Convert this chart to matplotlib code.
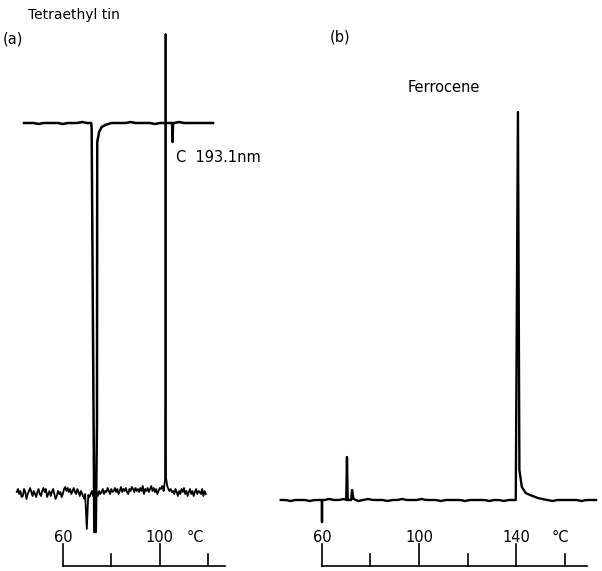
import numpy as np
import matplotlib
matplotlib.use('Agg')
import matplotlib.pyplot as plt

# ---- data (temperature in deg C, signal in chart units above each baseline) ----

# (a) lower trace: noise read every 0.5 C from 41 to 119 C
a_low_T = np.arange(41, 119.5, 0.5)
a_low_noise = [2, 5, 0, 3, -3, -2, 5, 2, -5, 0, 3, 6, 2, -2, 3, 0, -3, 2, 5, 0,
               -2, 3, 6, 2, 5, -3, 0, 3, -2, 2, 5, 0, -5, -2, 3, 0, 2, -3, 0, 5,
               7, 3, 6, 2, 5, 0, 3, 6, 2, 0, 5, 2, -2, 3, 0, -3, -5, -2, 2, 0,
               -3, 0, 3, -2, -3, 0, 2, -2, 3, 0, 2, 5, 0, 3, 2, 6, 3, 0, 5, 2,
               3, 6, 2, 5, 0, 3, 7, 2, 5, 3, 6, 2, 0, 5, 3, 7, 5, 2, 6, 3,
               5, 2, 6, 3, 8, 0, 5, 3, 6, 2, 5, 8, 3, 6, 2, 5, 0, 3, 6, 5,
               8, 5, 3, 6, 9, 3, 0, 5, 2, 3, 0, 5, 2, -2, 3, 0, 5, 2, 6, 0,
               3, -2, 2, 5, 0, 3, -2, 2, 5, 0, 3, 2, 0, 5, -2, 3, 0]
a_low_peaks = [
    ([69.2, 69.9, 70.5], [0, -35, -1]),
    ([101.6, 102.2, 102.4, 102.6, 103.2, 104.0], [3, 14, 460, 16, 7, 3]),
]

# (a) upper trace (C 193.1 nm): noise every 2 C from 44 to 122 C
a_up_T = np.arange(44, 123, 2.0)
a_up_noise = [0, 0, 0, -1, 0, 0, 0, 0, -1, 0, 0, 0, 1, 0, 0, 0, 0, 0, 1, 0,
              0, 0, 1, 0, 0, 0, 0, -1, 0, 0, 0, 0, 1, 0, 0, 0, 0, 0, 0, 0]
a_up_peaks = [
    ([71.7, 71.9, 73.0, 73.6, 74.1, 74.2, 75.0, 76.0, 77.5, 80.0],
     [0, -5, -409, -409, -300, -19, -9, -4, -2, 0]),
    ([105.1, 105.3, 105.5], [0, -19, 0]),
]

# (b) ferrocene trace: noise every 2 C from 43 to 173 C
b_T = np.arange(43, 174, 2.0)
b_noise = [0, 0, -1, 0, 0, 0, -1, 0, 0, 0, 1, 0, 0, 1, 0, 0, -1, 0, 1, 0,
           0, 0, -1, 0, 0, 1, 0, 0, 0, 1, 0, 0, 0, -1, 0, 0, 0, 0, -1, 0,
           0, 0, 0, -1, 0, 0, -1, 0, 0, 0, 0, 0, -1, 0, 0, 0, -1, 0, 0, 0,
           0, 0, -1, 0, 0, 0]
b_peaks = [
    ([60.0, 60.0, 60.0], [0, -22, 0]),
    ([70.0, 70.3, 70.6], [0, 43, 0]),
    ([72.0, 72.4, 73.0], [0, 10, 1]),
    ([139.9, 140.8, 141.4, 142.4, 144.0, 145.8, 149.0, 152.8],
     [0, 388, 30, 13, 7, 5, 2, 0]),
]

# baselines (chart units from bottom of figure)
a_low_base = 77
a_up_base = 448
b_base = 71

# temperature scales
a_ticks = [60, 80, 100, 120]
a_labels = {60: '60', 100: '100'}
a_scale_end = 127.1
b_ticks = [60, 80, 100, 120, 140, 160]
b_labels = {60: '60', 100: '100', 140: '140'}
b_scale_end = 169.3


def build(T, noise, peaks):
    pts = list(zip(T, noise))
    for pT, pS in peaks:
        lo, hi = min(pT), max(pT)
        pts = [p for p in pts if p[0] < lo or p[0] > hi]
        pts += list(zip(pT, pS))
    pts.sort(key=lambda p: p[0])
    return np.array([p[0] for p in pts]), np.array([p[1] for p in pts])


def draw_scale(ax, ticks, labels, end, deg_T):
    ax.plot([ticks[0], end], [5, 5], color='black', lw=1.2)
    for t in ticks:
        h = 22 if t in labels else 12
        ax.plot([t, t], [5, 5 + h], color='black', lw=1.2)
    for t, s in labels.items():
        ax.text(t, 33, s, ha='center', va='center', fontsize=10.5)
    ax.text(deg_T, 33, '°C', ha='center', va='center', fontsize=10.5)


fig = plt.figure(figsize=(6.02, 5.71), dpi=100)

ax_a = fig.add_axes([0, 0, 300 / 602, 1])
ax_a.set_xlim(34.07, 157.9)
ax_a.set_ylim(0, 571)
ax_a.axis('off')

ax_b = fig.add_axes([270 / 602, 0, 332 / 602, 1])
ax_b.set_xlim(38.56, 175.46)
ax_b.set_ylim(0, 571)
ax_b.axis('off')

x, y = build(a_low_T, a_low_noise, a_low_peaks)
ax_a.plot(x, y + a_low_base, color='black', lw=1.3)
x, y = build(a_up_T, a_up_noise, a_up_peaks)
ax_a.plot(x, y + a_up_base, color='black', lw=1.8)
x, y = build(b_T, b_noise, b_peaks)
ax_b.plot(x, y + b_base, color='black', lw=1.7)

draw_scale(ax_a, a_ticks, a_labels, a_scale_end, 114.7)
draw_scale(ax_b, b_ticks, b_labels, b_scale_end, 158.1)

ax_a.text(45.6, 556, 'Tetraethyl tin', ha='left', va='center', fontsize=10)
ax_a.text(35.3, 532, '(a)', ha='left', va='center', fontsize=10.5)
ax_a.text(106.9, 413, 'C  193.1nm', ha='left', va='center', fontsize=10.5)
ax_b.text(63.3, 534, '(b)', ha='left', va='center', fontsize=10.5)
ax_b.text(95.5, 483, 'Ferrocene', ha='left', va='center', fontsize=10.5)

fig.savefig('out.png', dpi=100)
